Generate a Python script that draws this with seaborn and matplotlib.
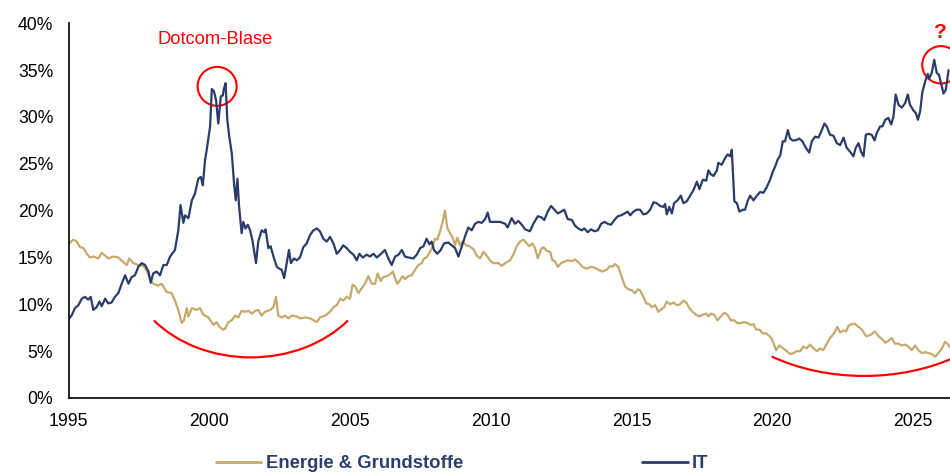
import numpy as np
import pandas as pd
import matplotlib
matplotlib.use("Agg")
import matplotlib.pyplot as plt
import seaborn as sns
from matplotlib.patches import Ellipse, Arc
from matplotlib.lines import Line2D

# ---------------- data ----------------
energy_years = [
    1995.02, 1995.17, 1995.29, 1995.41, 1995.53, 1995.65, 1995.76, 1995.88, 1996.06, 1996.18,
    1996.30, 1996.41, 1996.59, 1996.77, 1996.95, 1997.07, 1997.16, 1997.30, 1997.48, 1997.66,
    1997.78, 1997.90, 1998.01, 1998.19, 1998.31, 1998.49, 1998.66, 1998.78, 1998.90, 1999.02,
    1999.10, 1999.20, 1999.26, 1999.38, 1999.55, 1999.67, 1999.79, 1999.97, 2000.15, 2000.26,
    2000.36, 2000.48, 2000.56, 2000.68, 2000.80, 2000.92, 2001.03, 2001.15, 2001.27, 2001.39,
    2001.51, 2001.63, 2001.74, 2001.86, 2001.98, 2002.16, 2002.28, 2002.37, 2002.45, 2002.57,
    2002.69, 2002.81, 2002.93, 2003.11, 2003.22, 2003.40, 2003.58, 2003.70, 2003.82, 2003.93,
    2004.11, 2004.29, 2004.41, 2004.53, 2004.65, 2004.76, 2004.88, 2005.00, 2005.09, 2005.18,
    2005.30, 2005.41, 2005.53, 2005.65, 2005.77, 2005.89, 2005.98, 2006.09, 2006.18, 2006.30,
    2006.42, 2006.52, 2006.60, 2006.68, 2006.78, 2006.87, 2006.95, 2007.07, 2007.19, 2007.31,
    2007.43, 2007.55, 2007.63, 2007.72, 2007.84, 2007.94, 2008.02, 2008.10, 2008.20, 2008.29,
    2008.37, 2008.46, 2008.55, 2008.65, 2008.73, 2008.81, 2008.91, 2009.00, 2009.12, 2009.24,
    2009.38, 2009.50, 2009.62, 2009.74, 2009.85, 2009.97, 2010.09, 2010.27, 2010.39, 2010.51,
    2010.68, 2010.80, 2010.92, 2011.04, 2011.16, 2011.28, 2011.36, 2011.48, 2011.57, 2011.67,
    2011.79, 2011.87, 2011.99, 2012.11, 2012.19, 2012.28, 2012.38, 2012.50, 2012.64, 2012.76,
    2012.88, 2012.99, 2013.14, 2013.25, 2013.41, 2013.56, 2013.70, 2013.82, 2013.96, 2014.12,
    2014.24, 2014.32, 2014.41, 2014.53, 2014.65, 2014.77, 2014.89, 2015.01, 2015.12, 2015.22,
    2015.30, 2015.42, 2015.52, 2015.63, 2015.72, 2015.84, 2015.95, 2016.07, 2016.16, 2016.25,
    2016.37, 2016.49, 2016.61, 2016.72, 2016.84, 2016.94, 2017.05, 2017.17, 2017.29, 2017.41,
    2017.53, 2017.65, 2017.73, 2017.81, 2017.93, 2018.05, 2018.17, 2018.29, 2018.40, 2018.52,
    2018.64, 2018.76, 2018.88, 2019.00, 2019.12, 2019.23, 2019.33, 2019.42, 2019.54, 2019.66,
    2019.78, 2019.90, 2019.98, 2020.06, 2020.13, 2020.25, 2020.39, 2020.51, 2020.63, 2020.75,
    2020.87, 2020.99, 2021.10, 2021.22, 2021.34, 2021.46, 2021.58, 2021.70, 2021.81, 2021.93,
    2022.05, 2022.19, 2022.31, 2022.41, 2022.53, 2022.62, 2022.70, 2022.82, 2022.94, 2023.06,
    2023.18, 2023.33, 2023.47, 2023.65, 2023.77, 2023.89, 2024.01, 2024.12, 2024.24, 2024.36,
    2024.48, 2024.60, 2024.72, 2024.83, 2024.95, 2025.07, 2025.19, 2025.31, 2025.43, 2025.54,
    2025.66, 2025.78, 2025.90, 2026.02, 2026.14, 2026.22, 2026.31,
]
energy = [
    16.5, 16.9, 16.7, 16.1, 16.0, 15.4, 15.0, 15.1, 14.9, 15.5,
    15.2, 14.9, 15.1, 15.0, 14.5, 14.2, 14.9, 14.4, 14.2, 14.1,
    13.6, 12.6, 12.2, 12.0, 12.2, 11.3, 11.2, 10.4, 9.4, 8.0,
    8.3, 9.6, 8.7, 9.6, 9.4, 9.6, 8.9, 8.6, 7.8, 8.1,
    7.6, 7.3, 7.4, 8.1, 8.3, 8.8, 8.6, 9.3, 9.2, 9.3,
    9.0, 9.3, 9.4, 8.8, 9.2, 9.4, 9.7, 10.8, 8.8, 8.6,
    8.8, 8.5, 8.8, 8.7, 8.5, 8.6, 8.5, 8.3, 8.1, 8.6,
    8.8, 9.2, 9.7, 9.9, 10.6, 10.4, 10.8, 10.6, 12.1, 11.9,
    11.2, 11.7, 12.2, 13.0, 12.2, 12.2, 13.3, 12.5, 12.9, 13.0,
    13.2, 13.5, 12.8, 12.2, 12.6, 13.0, 12.7, 13.0, 13.1, 13.7,
    14.2, 14.4, 14.9, 15.0, 15.6, 16.2, 17.0, 16.9, 17.8, 18.8,
    20.0, 18.1, 17.6, 17.1, 16.3, 17.1, 16.3, 16.7, 16.3, 16.2,
    15.9, 15.2, 14.9, 15.6, 15.2, 14.7, 14.4, 14.4, 14.1, 14.4,
    14.7, 15.3, 16.2, 16.7, 16.9, 16.5, 16.2, 16.5, 16.0, 14.9,
    15.9, 16.1, 15.7, 15.6, 14.7, 14.6, 14.0, 14.4, 14.6, 14.7,
    14.6, 14.8, 14.4, 14.0, 13.8, 14.0, 13.9, 13.7, 13.5, 13.7,
    14.1, 14.0, 14.3, 14.0, 12.9, 11.9, 11.6, 11.5, 11.2, 11.6,
    11.5, 10.8, 10.1, 10.0, 9.7, 9.9, 9.2, 9.5, 9.7, 10.3,
    10.0, 10.2, 9.9, 10.0, 10.4, 10.2, 9.6, 9.2, 8.9, 8.7,
    8.9, 9.0, 8.7, 9.0, 8.9, 8.3, 8.7, 9.1, 8.9, 8.3,
    8.3, 8.0, 8.0, 8.1, 8.0, 7.8, 7.9, 7.3, 7.3, 6.9,
    6.9, 6.6, 6.3, 5.7, 5.1, 5.6, 5.3, 5.0, 4.7, 4.8,
    5.0, 5.0, 5.5, 5.3, 5.7, 5.3, 5.0, 5.3, 5.1, 5.8,
    6.4, 6.9, 7.6, 7.0, 7.2, 7.1, 7.7, 7.9, 7.9, 7.6,
    7.3, 6.6, 6.7, 7.1, 6.6, 6.3, 5.9, 6.1, 6.4, 5.8,
    5.8, 5.6, 5.7, 5.5, 5.1, 5.6, 5.1, 4.8, 4.9, 4.8,
    4.7, 4.4, 4.8, 5.3, 6.0, 5.8, 5.4,
]

it_years = [
    1995.02, 1995.11, 1995.23, 1995.35, 1995.47, 1995.59, 1995.70, 1995.79, 1995.88, 1996.00,
    1996.10, 1996.18, 1996.30, 1996.41, 1996.53, 1996.65, 1996.77, 1996.89, 1997.01, 1997.13,
    1997.24, 1997.36, 1997.48, 1997.60, 1997.72, 1997.84, 1997.92, 1998.01, 1998.13, 1998.25,
    1998.37, 1998.49, 1998.61, 1998.78, 1998.90, 1998.98, 1999.08, 1999.14, 1999.26, 1999.38,
    1999.49, 1999.61, 1999.70, 1999.77, 1999.85, 1999.91, 2000.03, 2000.09, 2000.17, 2000.24,
    2000.32, 2000.41, 2000.48, 2000.52, 2000.58, 2000.64, 2000.71, 2000.80, 2000.88, 2000.94,
    2001.00, 2001.06, 2001.15, 2001.21, 2001.29, 2001.37, 2001.45, 2001.54, 2001.66, 2001.74,
    2001.86, 2001.95, 2002.00, 2002.10, 2002.18, 2002.28, 2002.40, 2002.49, 2002.57, 2002.66,
    2002.75, 2002.83, 2002.90, 2003.01, 2003.11, 2003.22, 2003.34, 2003.46, 2003.58, 2003.70,
    2003.82, 2003.93, 2004.05, 2004.17, 2004.29, 2004.41, 2004.53, 2004.65, 2004.76, 2004.88,
    2005.00, 2005.12, 2005.24, 2005.33, 2005.45, 2005.59, 2005.71, 2005.83, 2005.95, 2006.07,
    2006.24, 2006.36, 2006.48, 2006.60, 2006.72, 2006.84, 2006.95, 2007.07, 2007.25, 2007.37,
    2007.49, 2007.61, 2007.72, 2007.82, 2007.90, 2007.98, 2008.10, 2008.22, 2008.34, 2008.49,
    2008.61, 2008.73, 2008.85, 2008.97, 2009.09, 2009.20, 2009.32, 2009.44, 2009.56, 2009.68,
    2009.80, 2009.89, 2009.97, 2010.15, 2010.33, 2010.51, 2010.60, 2010.74, 2010.86, 2010.98,
    2011.10, 2011.22, 2011.39, 2011.51, 2011.67, 2011.79, 2011.90, 2012.02, 2012.14, 2012.26,
    2012.38, 2012.50, 2012.61, 2012.73, 2012.88, 2012.99, 2013.11, 2013.23, 2013.32, 2013.44,
    2013.56, 2013.68, 2013.80, 2013.92, 2014.04, 2014.15, 2014.27, 2014.39, 2014.51, 2014.63,
    2014.75, 2014.86, 2014.95, 2015.07, 2015.18, 2015.30, 2015.42, 2015.54, 2015.66, 2015.78,
    2015.89, 2016.01, 2016.13, 2016.19, 2016.25, 2016.34, 2016.43, 2016.51, 2016.63, 2016.75,
    2016.84, 2016.96, 2017.08, 2017.20, 2017.32, 2017.41, 2017.53, 2017.65, 2017.73, 2017.81,
    2017.91, 2018.03, 2018.08, 2018.20, 2018.32, 2018.41, 2018.50, 2018.56, 2018.62, 2018.65,
    2018.74, 2018.83, 2018.95, 2019.03, 2019.12, 2019.21, 2019.33, 2019.45, 2019.57, 2019.68,
    2019.80, 2019.92, 2020.02, 2020.10, 2020.18, 2020.28, 2020.37, 2020.45, 2020.55, 2020.63,
    2020.71, 2020.83, 2020.95, 2021.07, 2021.19, 2021.31, 2021.40, 2021.52, 2021.64, 2021.73,
    2021.85, 2021.93, 2022.05, 2022.17, 2022.29, 2022.41, 2022.53, 2022.64, 2022.76, 2022.88,
    2022.96, 2023.06, 2023.15, 2023.24, 2023.32, 2023.41, 2023.53, 2023.63, 2023.71, 2023.83,
    2023.91, 2024.01, 2024.12, 2024.22, 2024.30, 2024.38, 2024.48, 2024.60, 2024.72, 2024.81,
    2024.89, 2025.01, 2025.10, 2025.17, 2025.25, 2025.33, 2025.43, 2025.52, 2025.57, 2025.66,
    2025.75, 2025.84, 2025.92, 2025.99, 2026.08, 2026.16, 2026.26,
]
it = [
    8.5, 8.8, 9.6, 9.9, 10.6, 10.8, 10.5, 10.8, 9.4, 9.7,
    10.3, 9.8, 10.6, 10.1, 10.2, 10.8, 11.2, 12.2, 13.1, 12.2,
    12.9, 13.1, 14.0, 14.4, 14.2, 13.5, 12.3, 13.3, 13.5, 13.1,
    14.2, 14.2, 15.1, 15.8, 17.9, 20.6, 18.7, 19.5, 19.2, 21.1,
    21.8, 23.4, 23.6, 22.7, 25.4, 26.5, 29.0, 33.0, 32.7, 31.8,
    29.3, 32.2, 32.3, 33.0, 33.6, 29.7, 27.9, 26.1, 22.9, 21.1,
    23.4, 20.4, 17.6, 18.8, 18.1, 18.5, 17.9, 16.7, 14.4, 16.7,
    17.9, 17.7, 18.0, 16.0, 16.2, 15.1, 14.0, 13.8, 13.7, 12.8,
    14.4, 15.8, 14.4, 14.9, 14.7, 15.0, 16.1, 16.5, 17.4, 17.9,
    18.1, 17.8, 17.0, 16.7, 17.2, 16.5, 15.4, 15.8, 16.3, 16.0,
    15.6, 15.3, 14.7, 15.4, 15.0, 15.3, 15.1, 15.4, 15.0, 15.3,
    15.8, 14.9, 14.2, 15.1, 15.3, 15.8, 15.1, 15.0, 14.9, 15.3,
    16.0, 16.2, 17.0, 16.4, 16.7, 15.8, 15.4, 15.8, 16.5, 16.6,
    16.3, 16.0, 15.1, 16.2, 17.3, 18.2, 17.9, 18.6, 18.8, 18.7,
    19.1, 19.8, 18.8, 18.8, 18.8, 18.6, 18.2, 19.2, 18.6, 18.9,
    18.5, 18.0, 17.8, 18.6, 19.4, 19.3, 19.0, 19.9, 20.5, 20.1,
    19.7, 19.9, 20.1, 19.1, 19.0, 18.4, 18.1, 17.9, 18.1, 17.7,
    18.0, 17.8, 17.9, 18.6, 18.8, 18.6, 18.5, 19.0, 19.4, 19.5,
    19.7, 19.9, 19.5, 19.9, 20.1, 20.1, 19.6, 19.7, 20.1, 20.9,
    20.8, 20.5, 20.4, 20.7, 19.6, 20.4, 19.7, 20.8, 21.1, 21.6,
    20.8, 21.0, 21.6, 22.2, 23.1, 22.3, 23.3, 23.2, 24.3, 23.9,
    23.7, 24.3, 25.1, 24.9, 25.6, 26.0, 25.8, 26.5, 22.9, 21.0,
    20.8, 19.9, 20.1, 20.1, 21.0, 21.6, 21.1, 21.6, 22.0, 21.9,
    22.5, 23.3, 24.2, 24.7, 25.4, 25.9, 27.4, 27.4, 28.6, 27.7,
    27.5, 27.5, 27.7, 27.4, 26.7, 26.2, 27.4, 27.9, 27.8, 28.4,
    29.3, 29.0, 28.1, 28.0, 27.2, 27.0, 27.8, 26.7, 26.3, 25.8,
    26.7, 27.2, 26.3, 25.8, 28.1, 28.2, 28.1, 27.5, 28.3, 29.0,
    29.0, 29.7, 29.9, 29.2, 30.0, 32.4, 31.3, 31.0, 31.5, 32.4,
    31.3, 30.7, 30.4, 29.7, 30.6, 32.7, 33.8, 34.6, 34.1, 34.7,
    36.1, 34.7, 34.5, 33.6, 32.5, 32.9, 35.0,
]

series_labels = ["Energie & Grundstoffe", "IT"]
x_ticks = [1995, 2000, 2005, 2010, 2015, 2020, 2025]
y_ticks = [0, 5, 10, 15, 20, 25, 30, 35, 40]
y_tick_labels = ["0%", "5%", "10%", "15%", "20%", "25%", "30%", "35%", "40%"]

# ---------------- styling ----------------
GOLD = "#C6AA6C"
NAVY = "#2C3C6A"
RED = "#FF0000"

sns.set_style("white")
plt.rcParams["font.family"] = ["Liberation Sans", "DejaVu Sans"]

df = pd.concat([
    pd.DataFrame({"Jahr": energy_years, "Anteil": energy, "Sektor": series_labels[0]}),
    pd.DataFrame({"Jahr": it_years, "Anteil": it, "Sektor": series_labels[1]}),
], ignore_index=True)

fig = plt.figure(figsize=(9.5, 4.75), dpi=100)
ax = fig.add_axes([68.5 / 950, 1 - 398 / 475, (950 - 68.5) / 950, (398 - 23.3) / 475])

sns.lineplot(data=df, x="Jahr", y="Anteil", hue="Sektor",
             palette={series_labels[0]: GOLD, series_labels[1]: NAVY},
             estimator=None, sort=False, linewidth=1.6, legend=False, ax=ax)

ax.set_xlim(1995, 2026.31)
ax.set_ylim(0, 40)
ax.set_xticks(x_ticks)
ax.set_xticklabels([str(t) for t in x_ticks])
ax.set_yticks(y_ticks)
ax.set_yticklabels(y_tick_labels)
ax.set_xlabel("")
ax.set_ylabel("")
for s in ["top", "right"]:
    ax.spines[s].set_visible(False)
for s in ["left", "bottom"]:
    ax.spines[s].set_color("black")
    ax.spines[s].set_linewidth(1.2)
ax.tick_params(axis="both", direction="out", length=4, width=1.2, colors="black",
               labelsize=12.7, pad=7)
ax.grid(False)

# ---------------- annotations ----------------
ax.text(2000.2, 38.3, "Dotcom-Blase", color=RED, fontsize=13.2, ha="center", va="center")
ax.add_patch(Ellipse((2000.28, 33.27), 1.386, 4.16, fill=False, edgecolor=RED, lw=1.5))
ax.text(2025.96, 39.0, "?", color=RED, fontsize=15, fontweight="bold",
        ha="center", va="center", clip_on=False)
ax.add_patch(Ellipse((2025.99, 35.57), 1.33, 3.99, fill=False, edgecolor=RED, lw=1.5))


def add_arc(cx, cy, w, h, t1, t2):
    # convert ellipse parameter angles into the geometric angles Arc expects
    a1 = np.degrees(np.arctan2(h / w * np.sin(np.radians(t1)), np.cos(np.radians(t1)))) % 360
    a2 = np.degrees(np.arctan2(h / w * np.sin(np.radians(t2)), np.cos(np.radians(t2)))) % 360
    ax.add_patch(Arc((cx, cy), w, h, theta1=a1, theta2=a2, color=RED, lw=1.6))


add_arc(2001.48, 15.01, 8.88, 21.35, 219.1, 320.9)
add_arc(2023.26, 13.67, 11.37, 22.63, 234.7, 305.0)

# ---------------- legend ----------------
handles = [Line2D([], [], color=GOLD, lw=2), Line2D([], [], color=NAVY, lw=2)]
fig.legend(handles, series_labels, loc="center left",
           bbox_to_anchor=(216 / 950, 1 - 464 / 475), ncol=2, frameon=False,
           borderpad=0, borderaxespad=0, handlelength=2.45, handletextpad=0.25,
           columnspacing=9.7, prop={"weight": "bold", "size": 13.3}, labelcolor="#2E3E6C")

fig.savefig("out.png", dpi=100)
